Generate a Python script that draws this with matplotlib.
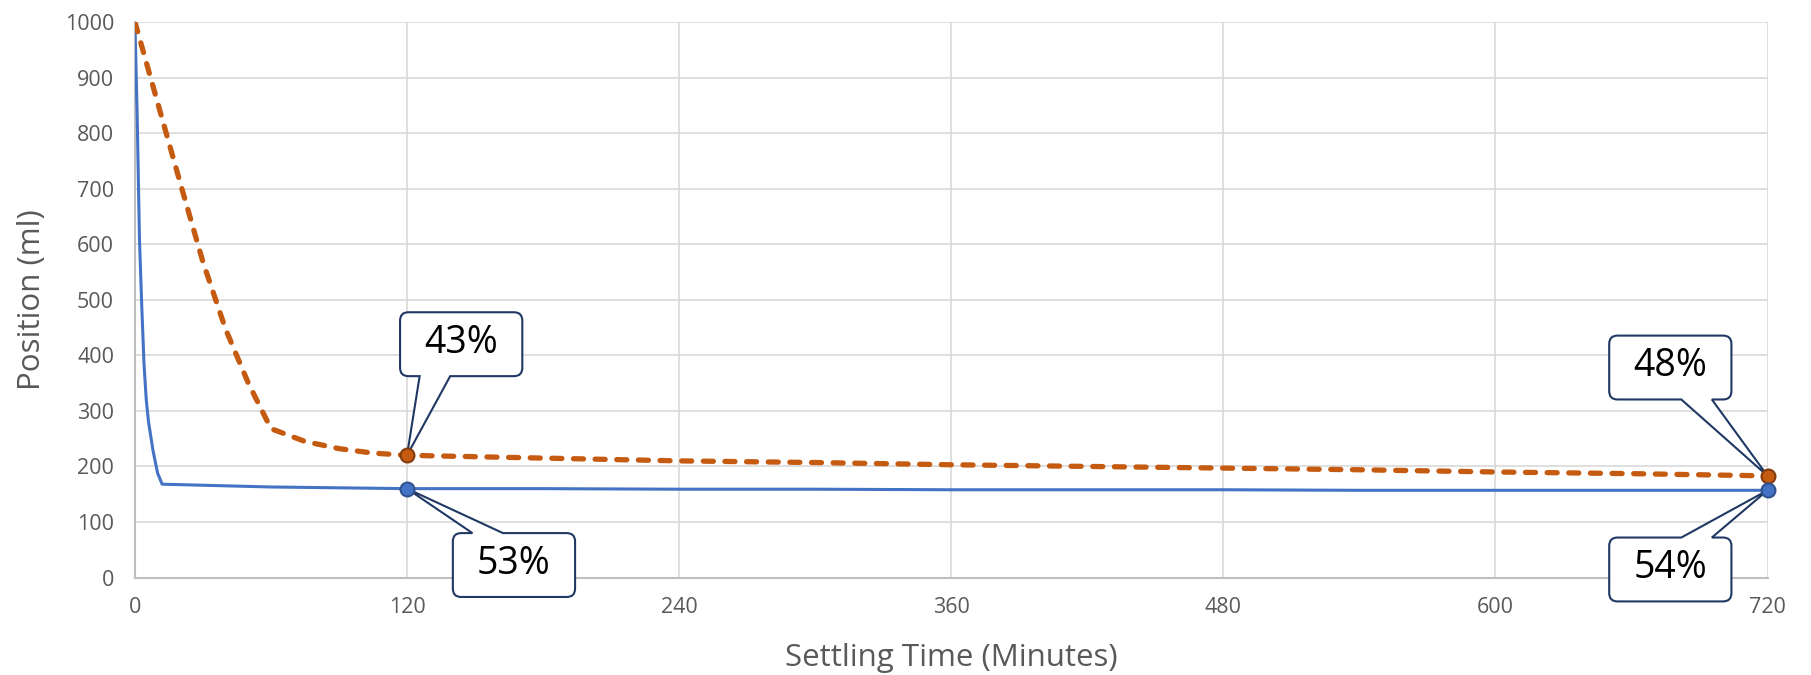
import matplotlib.pyplot as plt
from matplotlib.path import Path
from matplotlib.patches import PathPatch
from matplotlib.transforms import Affine2D, ScaledTranslation

# Datos
t_azul = [0, 1, 2, 3, 4, 5, 6, 8, 10, 12, 60, 120, 180, 240, 300, 360, 420, 480, 540, 600, 660, 720]
pos_azul = [1000, 830, 610, 490, 385, 320, 280, 228, 188, 168, 163, 160, 160, 159, 159, 158, 158, 158, 157, 157, 157, 157]

t_naranja = [0, 10, 20, 30, 40, 50, 60, 75, 90, 105, 120, 180, 240, 300, 360, 420, 480, 540, 600, 660, 720]
pos_naranja = [1000, 855, 710, 568, 447, 350, 268, 245, 232, 224, 220, 215, 210, 207, 203, 200, 197, 194, 190, 187, 183]

# Puntos con etiqueta (tiempo, texto, centro del recuadro en puntos respecto al punto)
etiquetas_azul = [(120, "53%", (77, -55)), (720, "54%", (-70, -57))]
etiquetas_naranja = [(120, "43%", (39, 80)), (720, "48%", (-70, 78))]

azul = "#4472C4"
naranja = "#C55A11"
gris = "#595959"
borde = "#1F3864"

plt.rcParams['font.family'] = ['Open Sans', 'DejaVu Sans']

fig = plt.figure(figsize=(18.11, 6.75), dpi=100)
ax = fig.add_axes([0.0745, 0.1444, 0.9015, 0.8230])

ax.plot(t_azul, pos_azul, color=azul, lw=2.2, zorder=3)
ax.plot(t_naranja, pos_naranja, color=naranja, lw=3.8, ls=(0, (1.9, 2.2)),
        dash_capstyle='round', zorder=3)


def forma_globo(cx, cy, w=88, h=46, r=6):
    # recuadro redondeado con la punta en (0, 0), todo en puntos
    x0, x1 = cx - w / 2, cx + w / 2
    y0, y1 = cy - h / 2, cy + h / 2
    if cx > 0:
        b0, b1 = x0 + 0.16 * w, x0 + 0.41 * w
    else:
        b0, b1 = x0 + 0.59 * w, x0 + 0.84 * w
    v = [(x0 + r, y0)]
    c = [Path.MOVETO]
    if cy > 0:
        v += [(b0, y0), (0, 0), (b1, y0)]
        c += [Path.LINETO] * 3
    v += [(x1 - r, y0), (x1, y0), (x1, y0 + r), (x1, y1 - r), (x1, y1), (x1 - r, y1)]
    c += [Path.LINETO, Path.CURVE3, Path.CURVE3, Path.LINETO, Path.CURVE3, Path.CURVE3]
    if cy < 0:
        v += [(b1, y1), (0, 0), (b0, y1)]
        c += [Path.LINETO] * 3
    v += [(x0 + r, y1), (x0, y1), (x0, y1 - r), (x0, y0 + r), (x0, y0), (x0 + r, y0), (x0 + r, y0)]
    c += [Path.LINETO, Path.CURVE3, Path.CURVE3, Path.LINETO, Path.CURVE3, Path.CURVE3, Path.CLOSEPOLY]
    return Path(v, c)


def callouts(tiempos, posiciones, etiquetas, color, color_borde):
    for t, texto, (cx, cy) in etiquetas:
        y = posiciones[tiempos.index(t)]
        ax.plot([t], [y], 'o', ms=10, color=color, mec=color_borde, mew=1.5, zorder=7, clip_on=False)
        tr = Affine2D().scale(1 / 72) + fig.dpi_scale_trans + ScaledTranslation(t, y, ax.transData)
        ax.add_patch(PathPatch(forma_globo(cx, cy), transform=tr, fc='white', ec=borde,
                               lw=1.5, zorder=5, clip_on=False))
        ax.annotate(texto, xy=(t, y), xytext=(cx, cy + 1), textcoords='offset points',
                    ha='center', va='center', fontsize=27, color='black', zorder=6)


callouts(t_naranja, pos_naranja, etiquetas_naranja, naranja, "#843C0C")
callouts(t_azul, pos_azul, etiquetas_azul, azul, "#2F528F")

ax.set_xlim(0, 720)
ax.set_ylim(0, 1000)
ax.set_xticks(range(0, 721, 120))
ax.set_yticks(range(0, 1001, 100))
ax.grid(True, color="#d9d9d9", lw=1.2)
ax.set_axisbelow(True)
for lado in ['top', 'right']:
    ax.spines[lado].set_visible(False)
for lado in ['left', 'bottom']:
    ax.spines[lado].set_color("#bfbfbf")
    ax.spines[lado].set_linewidth(1.5)
ax.tick_params(length=0, labelsize=15.5, colors=gris)
ax.tick_params(axis='y', pad=15)
ax.tick_params(axis='x', pad=14)

ax.set_xlabel("Settling Time (Minutes)", fontsize=22.5, color=gris, labelpad=18)
ax.set_ylabel("Position (ml)", fontsize=22.5, color=gris, labelpad=13)

fig.savefig("out.png", dpi=100)
